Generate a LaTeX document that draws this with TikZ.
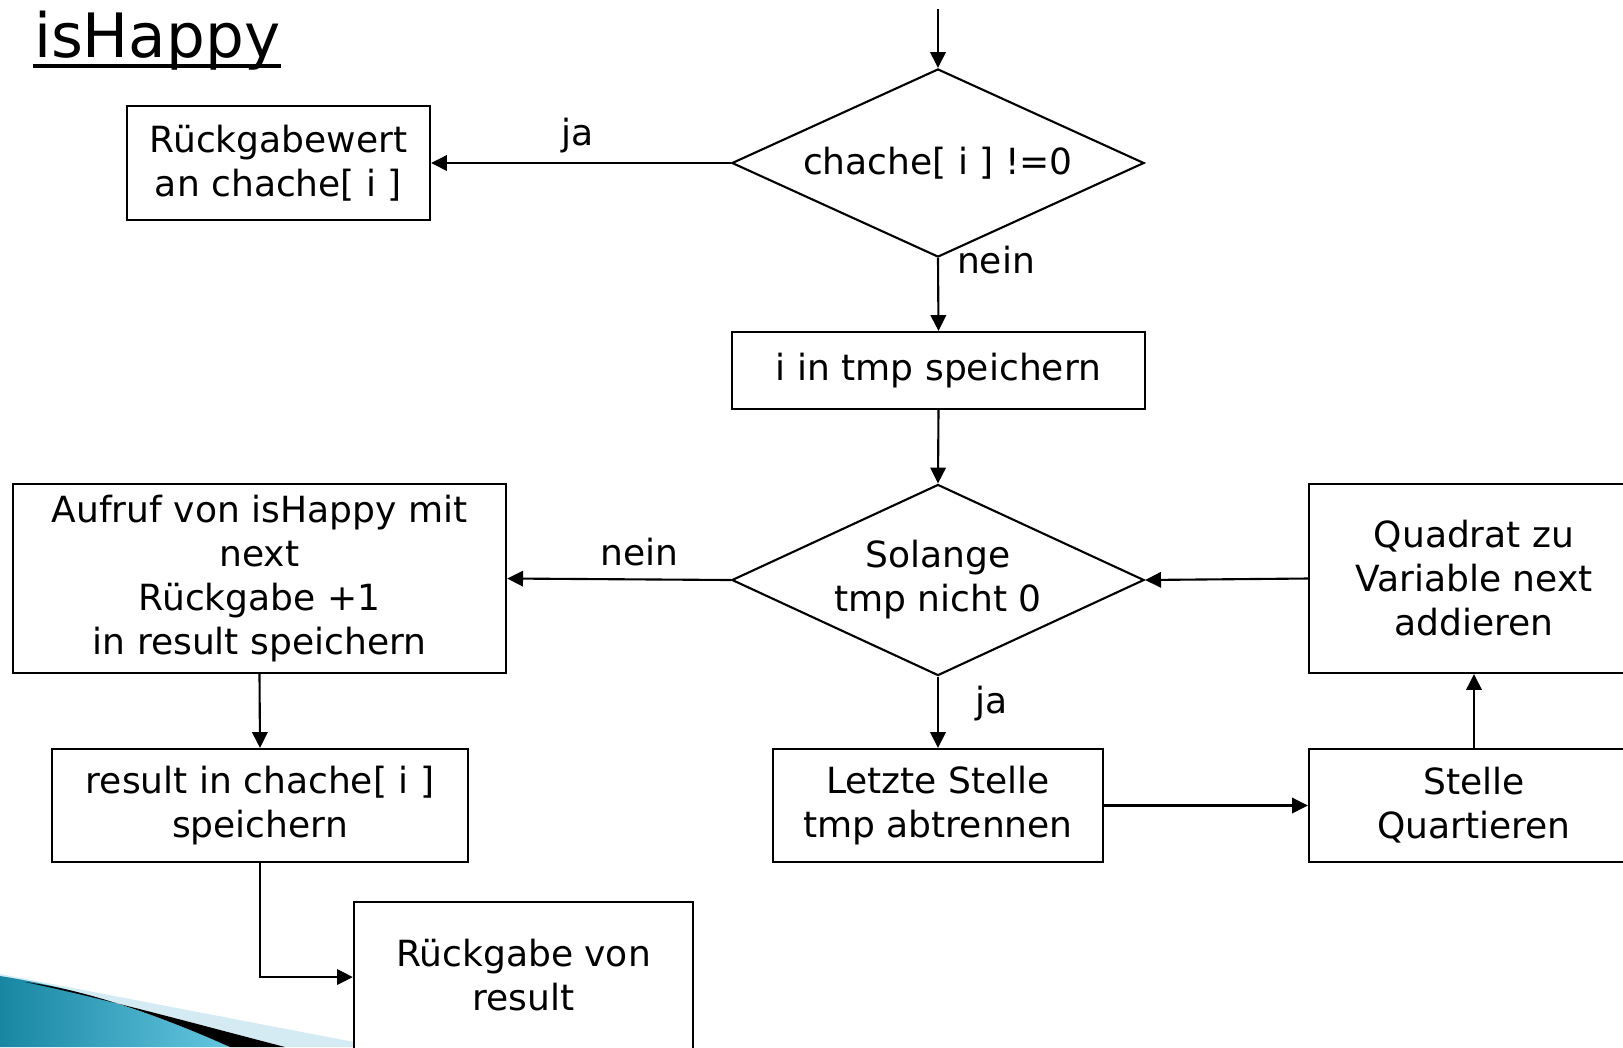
\documentclass[tikz,border=0pt]{standalone}
\usepackage{fontspec}
\setmainfont{DejaVu Sans}
\usetikzlibrary{shapes.geometric,arrows.meta}
\definecolor{tealdark}{RGB}{24,134,162}
\definecolor{teallight}{RGB}{100,198,224}
\definecolor{paleblue}{RGB}{212,235,243}
\begin{document}
\begin{tikzpicture}[x=0.01cm,y=-0.01cm,
  font=\fontsize{10.25pt}{12.5pt}\selectfont,
  line width=0.6pt,
  box/.style={draw, fill=white, align=center, inner sep=0pt},
  decision/.style={draw, fill=white, diamond, aspect=2.2, inner sep=0pt, align=center},
  arr/.style={-{Triangle[length=4.5pt,width=4.4pt]}},
  lbl/.style={inner sep=0pt, anchor=base}]
\useasboundingbox (0,0) rectangle (1623,1047);
\clip (0,0) rectangle (1623,1047);

% decorative swoosh in the lower left corner
\fill[paleblue] (0,974) -- (380,1047) -- (0,1047) -- cycle;
\shade[left color=tealdark, right color=teallight]
  (0,976) .. controls (90,990) and (170,1020) .. (230,1047) -- (0,1047) -- cycle;
\fill[black] (25,982) .. controls (110,1000) and (200,1025) .. (285,1047)
  -- (230,1047) .. controls (170,1020) and (90,990) .. (25,982) -- cycle;

% title
\node[anchor=base west, inner sep=0pt, font=\fontsize{17.4pt}{20pt}\selectfont] (title) at (33,57) {isHappy};
\draw[line width=1.1pt] ([yshift=-0.09cm]title.base west) -- ([yshift=-0.09cm]title.base east);

% flowchart nodes
\node[box, minimum width=3.03cm, minimum height=1.14cm] (ret) at (278.5,163) {Rückgabewert\\an chache[ i ]};
\node[decision, minimum width=4.12cm, minimum height=1.88cm] (c1) at (938,163) {chache[ i ] !=0};
\node[box, minimum width=4.13cm, minimum height=0.77cm] (tmp) at (938.5,370.5) {i in tmp speichern};
\node[decision, minimum width=4.12cm, minimum height=1.91cm] (c2) at (938,580) {Solange\\tmp nicht 0};
\node[box, minimum width=4.93cm, minimum height=1.89cm] (call) at (259.5,578.5) {Aufruf von isHappy mit\\next\\Rückgabe +1\\in result speichern};
\node[box, minimum width=4.16cm, minimum height=1.13cm] (store) at (260,805.5) {result in chache[ i ]\\speichern};
\node[box, minimum width=3.39cm, minimum height=1.91cm, anchor=north] (res) at (523.5,900.5) {Rückgabe von\\result\\\mbox{}};
\node[box, minimum width=3.30cm, minimum height=1.13cm] (cut) at (938,805.5) {Letzte Stelle\\tmp abtrennen};
\node[box, minimum width=3.30cm, minimum height=1.13cm] (sq) at (1474,805.5) {Stelle\\Quartieren};
\node[box, minimum width=3.30cm, minimum height=1.89cm] (add) at (1474,578.5) {Quadrat zu\\Variable next\\addieren};

% connectors
\coordinate (entry) at (938,9);
\draw[arr] (entry) -- (c1.north);
\draw[arr] (c1.west) -- (ret.east);
\draw[arr] (c1.south) -- (tmp.north);
\draw[arr] (tmp.south) -- (c2.north);
\draw[arr] (c2.west) -- (call.east);
\draw[arr] (call.south) -- (store.north);
\draw[arr] (store.south) |- ([yshift=-0.765cm]res.north west);
\draw[arr] (c2.south) -- (cut.north);
\draw[arr] (cut.east) -- (sq.west);
\draw[arr] (sq.north) -- (add.south);
\draw[arr] (add.west) -- (c2.east);

% branch labels
\node[lbl] (ja1) at (578,145) {ja};
\node[lbl] (nein1) at (996,273) {nein};
\node[lbl] (nein2) at (639.5,565) {nein};
\node[lbl] (ja2) at (992,713) {ja};
\end{tikzpicture}
\end{document}
